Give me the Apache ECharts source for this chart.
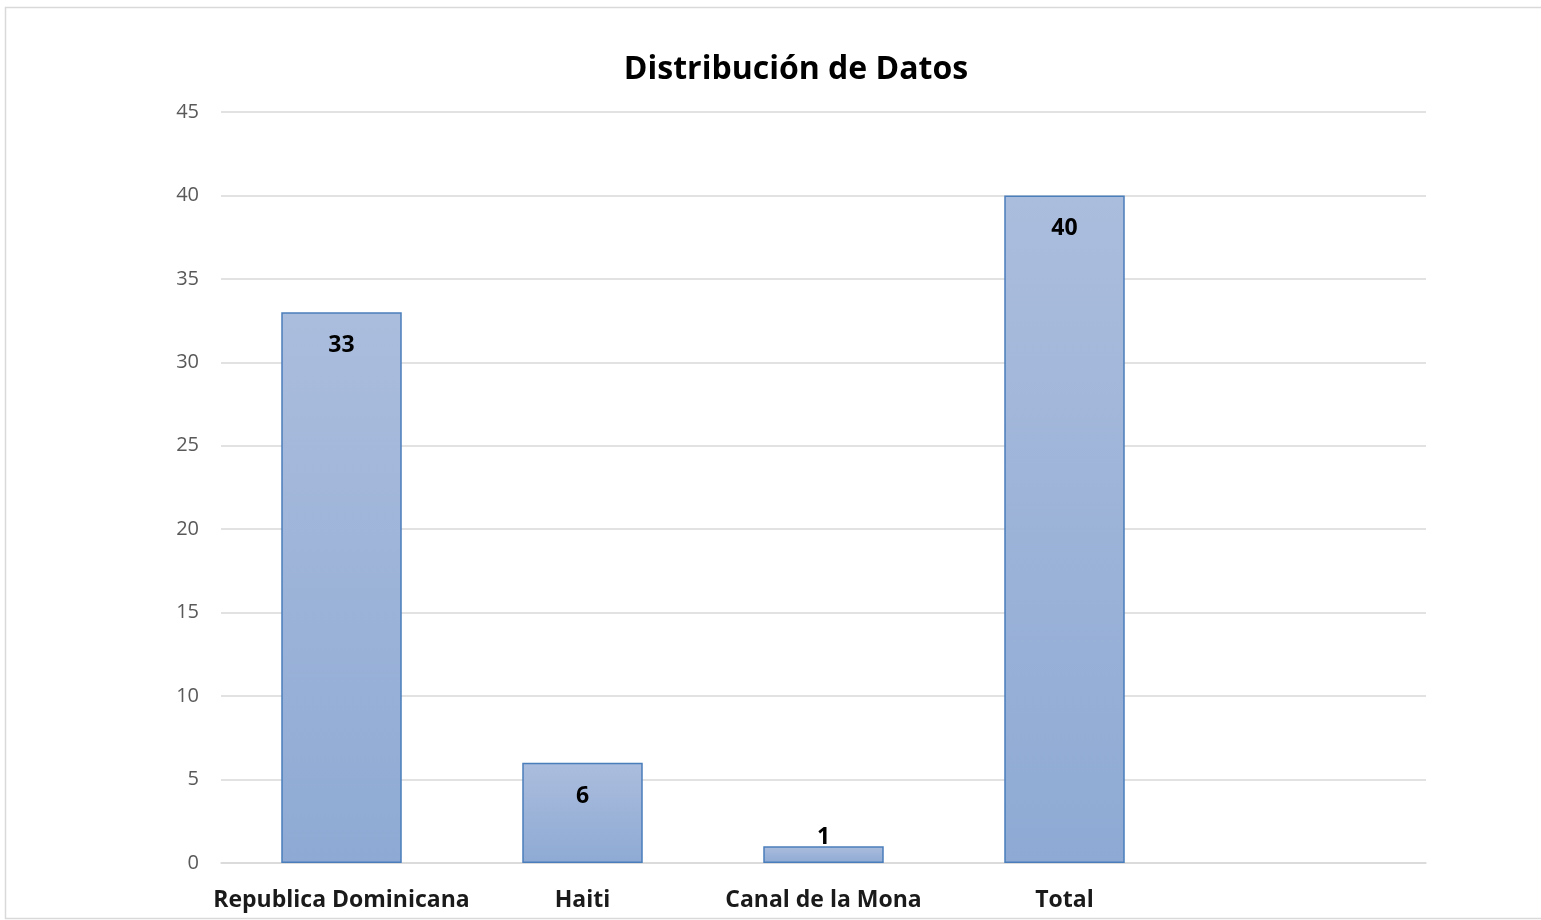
<!DOCTYPE html>
<html><head><meta charset="utf-8">
<script src="https://cdn.jsdelivr.net/npm/echarts@6/dist/echarts.min.js"></script>
<style>html,body{margin:0;padding:0;background:#fff}#c{width:1541px;height:920px}</style>
</head><body><div id="c"></div>
<script>
var categories = ['Republica Dominicana', 'Haiti', 'Canal de la Mona', 'Total', ''];
var values = [33, 6, 1, 40, null];
var yTicks = {min: 0, max: 45, interval: 5};
var title = 'Distribución de Datos';

var chart = echarts.init(document.getElementById('c'), null, {renderer: 'canvas'});
var font = '"Open Sans", "Noto Sans", sans-serif';
var data = values.map(function (v) {
  if (v === null) return null;
  var d = {value: v};
  if (v < 3) d.label = {position: 'top', distance: 0, offset: [0, 3]};
  return d;
});
chart.setOption({
  animation: false,
  title: {text: title, left: 791, textAlign: 'center', top: 49, textStyle: {fontFamily: font, fontSize: 32, fontWeight: 'bold', color: '#000'}},
  graphic: [{type: 'rect', shape: {x: 5.5, y: 7.5, width: 1560, height: 911}, style: {fill: null, stroke: '#d9d9d9', lineWidth: 1.5}, silent: true}],
  grid: {left: 221, right: 115, top: 112, bottom: 57},
  xAxis: {type: 'category', data: categories,
    axisLine: {lineStyle: {color: '#d9d9d9', width: 1.5}}, axisTick: {show: false},
    axisLabel: {fontFamily: font, fontSize: 23, fontWeight: 'bold', color: '#1a1a1a', margin: 26, interval: 0}},
  yAxis: {type: 'value', min: yTicks.min, max: yTicks.max, interval: yTicks.interval,
    axisLine: {show: false}, axisTick: {show: false},
    axisLabel: {fontFamily: font, fontSize: 20, color: '#595959', margin: 22},
    splitLine: {lineStyle: {color: '#d9d9d9', width: 1.5}}},
  series: [{type: 'bar', data: data, barWidth: '50%',
    itemStyle: {color: new echarts.graphic.LinearGradient(0, 0, 0, 1, [{offset: 0, color: '#abbddd'}, {offset: 1, color: '#8eaad4'}]),
      borderColor: '#4a7ebb', borderWidth: 1.5},
    label: {show: true, position: 'insideTop', distance: 22, fontFamily: font, fontSize: 23, fontWeight: 'bold', color: '#000'}}]
});
</script></body></html>
